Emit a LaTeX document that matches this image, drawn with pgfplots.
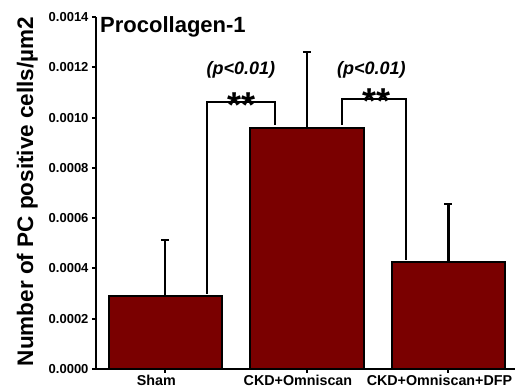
\documentclass[border=0pt]{standalone}
\usepackage{fontspec}
\setmainfont{Liberation Sans}
\usepackage{pgfplots}
\pgfplotsset{compat=1.18}
\definecolor{barred}{RGB}{122,0,0}
\begin{document}
\begin{tikzpicture}[x=1pt,y=1pt]
\path[use as bounding box] (0,0) rectangle (515,390);
\begin{axis}[
  at={(96pt,21pt)}, anchor=south west,
  scale only axis, width=419pt, height=352pt,
  xmin=-0.49, xmax=2.47, ymin=0, ymax=0.0014,
  axis x line=bottom, axis y line=left,
  axis line style={line width=2.4pt, -},
  xtick={0,1,2}, xticklabels={Sham, CKD+Omniscan, CKD+Omniscan+DFP},
  ytick={0,0.0002,0.0004,0.0006,0.0008,0.0010,0.0012,0.0014},
  scaled y ticks=false,
  yticklabel style={font=\fontsize{13}{13}\selectfont\bfseries,
    /pgf/number format/fixed, /pgf/number format/fixed zerofill, /pgf/number format/precision=4},
  /pgf/number format/assume math mode=true,
  xticklabel style={font=\fontsize{14.3}{14.3}\selectfont\bfseries, yshift=1pt, xshift=-9pt},
  tick style={line width=2pt, black},
  major tick length=4pt,
  tick align=outside,
  clip=false,
]
\addplot[ybar, bar width=0.8, fill=barred, draw=black, line width=2pt,
  error bars/.cd, y dir=plus, y explicit,
  error bar style={line width=2.2pt, black},
  error mark options={rotate=90, line width=2.2pt, mark size=4pt, black}]
  coordinates {(0,0.00029) +- (0,0.000223) (1,0.000958) +- (0,0.000302) (2,0.000425) +- (0,0.000231)};
\addplot[sharp plot, black, line width=2pt, mark=none]
  coordinates {(0.297,0.00030) (0.297,0.001062) (0.777,0.001062) (0.777,0.00097)};
\addplot[sharp plot, black, line width=2pt, mark=none]
  coordinates {(1.25,0.00097) (1.25,0.001074) (1.70,0.001074) (1.70,0.000435)};
\node[font=\fontsize{18}{18}\selectfont\bfseries\itshape] at (axis cs:0.534,0.001189) {(p<0.01)};
\node[font=\fontsize{18}{18}\selectfont\bfseries\itshape] at (axis cs:1.456,0.001189) {(p<0.01)};
\node[font=\fontsize{36}{36}\selectfont\bfseries, anchor=base, inner sep=0] at (axis cs:0.537,0.001002) {**};
\node[font=\fontsize{36}{36}\selectfont\bfseries, anchor=base, inner sep=0] at (axis cs:1.49,0.001018) {**};
\end{axis}
\node[anchor=base west, font=\fontsize{22}{22}\selectfont\bfseries, inner sep=0] at (100,357) {Procollagen-1};
\node[rotate=90, anchor=base, inner sep=0, font=\fontsize{22.5}{22.5}\selectfont\bfseries] at (33,198.5) {Number of PC positive cells/µm2};
\end{tikzpicture}
\end{document}
